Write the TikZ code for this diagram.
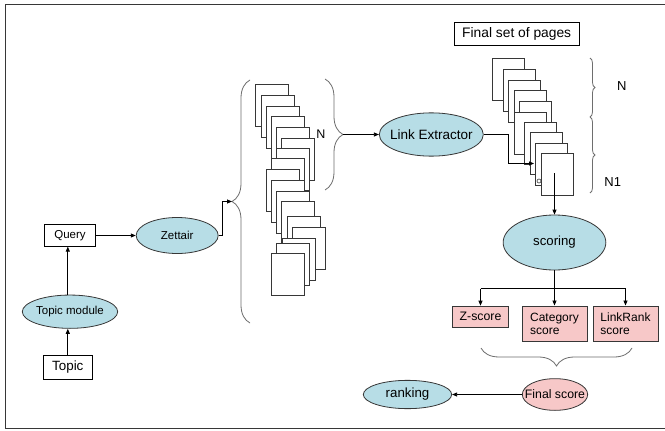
\documentclass[tikz,border=0pt]{standalone}
\usepackage{fontspec}
\setmainfont{Liberation Sans}
\usetikzlibrary{shapes.geometric,arrows.meta,decorations.pathreplacing}
\definecolor{eblue}{RGB}{183,221,230}
\definecolor{epink}{RGB}{247,200,200}
\definecolor{lncol}{RGB}{55,55,55}
\definecolor{brcol}{RGB}{110,110,110}
\newcommand{\fsz}[1]{\fontsize{#1}{#1}\selectfont}
\begin{document}
\begin{tikzpicture}[x=1pt,y=-1pt,
  every node/.style={inner sep=0pt, font=\fsz{11.5}, text=black},
  ell/.style={ellipse, draw=lncol, line width=0.8pt, fill=eblue, inner xsep=-10pt},
  pell/.style={ellipse, draw=lncol, line width=0.8pt, fill=epink, inner xsep=-10pt},
  box/.style={rectangle, draw=black, line width=0.8pt, fill=white},
  pbox/.style={rectangle, draw=lncol, line width=0.8pt, fill=epink},
  page/.style={rectangle, draw=lncol, line width=0.8pt, fill=white, minimum width=32.5pt, minimum height=42pt, anchor=north west},
  conn/.style={draw=black, line width=0.8pt},
  arr/.style={conn, -{Triangle[length=5pt,width=4pt]}},
  brc/.style={draw=brcol, line width=0.8pt, decorate, decoration={brace, amplitude=#1}},
]
\useasboundingbox (0,0) rectangle (665,431);
\fill[white] (0,0) rectangle (665,431);
\draw[lncol, line width=1pt] (666,4.5) -- (5.5,4.5) -- (5.5,428.5) -- (666,428.5);

% left part
\node[box, minimum width=51.4pt, minimum height=21.4pt] (q) at (70,235.5) {Query};
\node[ell, minimum width=82pt, minimum height=36pt] (z) at (177.2,235.5) {Zettair};
\node[ell, minimum width=95.4pt, minimum height=33.3pt] (tm) at (70,311.7) {Topic module};
\node[box, minimum width=49pt, minimum height=24.3pt, font=\fsz{13.4}] (t) at (67.8,367.2) {Topic};

\draw[arr] (q.east) -- (z.west);
\draw[arr] (t.north) -- (t.north |- tm.south);
\draw[arr] (t.north |- tm.north) -- (t.north |- q.south);

% middle stack of pages
\foreach \i/\x/\y in {1/255/84, 2/261/95, 3/266/106, 4/271/116, 5/276/127, 6/281/138,
  7/276/148, 8/271/158, 9/266/169, 10/271/180, 11/276/191, 12/281/201,
  13/287/216, 14/292/227, 15/282/238, 16/276/243, 17/271/253}
  \node[page] (m\i) at (\x,\y) {};

% middle braces
\draw[brc=18pt] (250,323) -- (250,80);
\coordinate (lbt) at (232,201.5);
\draw[arr] (z.east) -- ++(4,0) |- (lbt);
\draw[brc=18pt] (325,79) -- (325,190);
\coordinate (rbt) at (343,134.5);
\node[font=\fsz{12.5}] (nlab) at (321,133.8) {N};

\node[ell, minimum width=104pt, minimum height=43.3pt, font=\fsz{13.5}] (le) at (431.3,134.5) {Link Extractor};
\draw[arr] (rbt) -- (le.west);

% final set of pages
\node[box, minimum width=124.7pt, minimum height=22.7pt, font=\fsz{13.8}] (fsp) at (516.7,33.7) {Final set of pages};

\foreach \i/\x/\y in {1/492/58, 2/503/69, 3/508/80, 4/514/90, 5/519/101, 6/514/112,
  7/524/122, 8/530/132, 9/535/143, 10/541/153}
  \node[page, minimum width=32.3pt] (r\i) at (\x,\y) {};

\coordinate (lein) at (534,163.5);
\draw[arr] (le.east) -- (508.5,134.5) |- (lein);
\draw[lncol, fill=white, line width=0.6pt] (539,181) circle (2pt);

\draw[brc=5pt] (590,58) -- (590,117);
\draw[brc=5pt] (590,117) -- (590,193);
\node[font=\fsz{13}] (nr) at (621.7,86) {N};
\node[font=\fsz{13}] (n1) at (612.7,181.7) {N1};

% scoring
\node[ell, minimum width=102.7pt, minimum height=55pt, font=\fsz{13.2}] (sc) at (554.5,242.5) {scoring};
\coordinate (sstart) at (554.5,173);
\draw[arr] (sstart) -- (sstart |- sc.north);

\node[pbox, minimum width=56.7pt, minimum height=21.3pt, font=\fsz{12.3}] (zs) at (480.5,316.7) {Z-score};
\node[pbox, minimum width=65pt, minimum height=35.7pt, font=\fsz{12}, align=left] (cs) at (554.5,323.8) {Category\\[1pt]score};
\node[pbox, minimum width=65pt, minimum height=35.7pt, font=\fsz{12}, align=left] (lr) at (625.5,323.8) {LinkRank\\[1pt]score};

\coordinate (sj) at (554.5,288.5);
\draw[conn] (sc.south) -- (sj);
\draw[conn] (sj -| zs.north) -- (sj -| lr.north);
\draw[arr] (sj -| zs.north) -- (zs.north);
\draw[arr] (sj -| cs.north) -- (cs.north);
\draw[arr] (sj -| lr.north) -- (lr.north);

\draw[brc=18pt] (632,348) -- (481,348);

\node[pell, minimum width=65.4pt, minimum height=31.7pt, font=\fsz{12.3}] (fs) at (555,394.5) {Final score};
\node[ell, minimum width=88.4pt, minimum height=28.3pt, font=\fsz{13.3}] (rk) at (407.5,394.5) {ranking};
\draw[arr] (fs.west) -- (rk.east);
\end{tikzpicture}
\end{document}
